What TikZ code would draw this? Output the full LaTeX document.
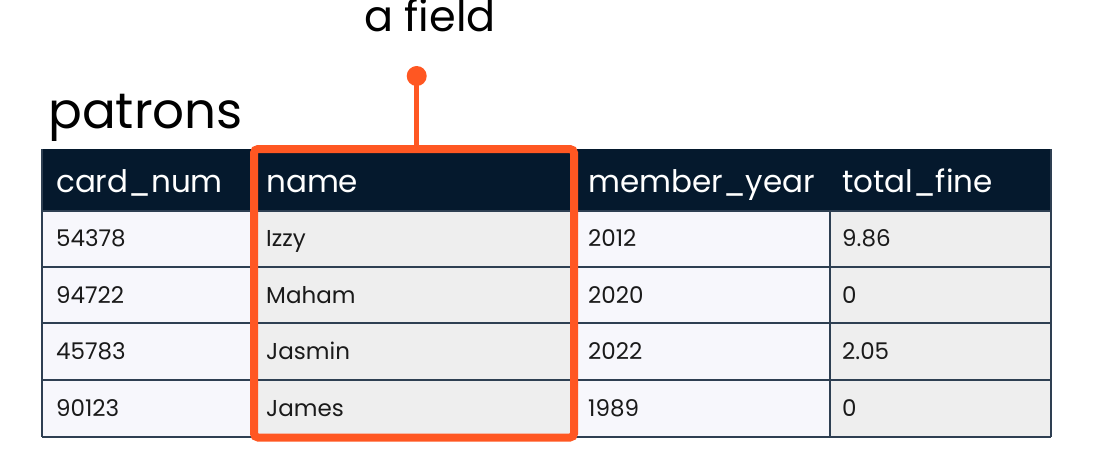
\documentclass[tikz,border=0pt]{standalone}
\usepackage{fontspec}
\setmainfont{Poppins}
\definecolor{navy}{HTML}{05192D}
\definecolor{dcorange}{HTML}{FF5722}
\definecolor{cellA}{HTML}{F7F7FC}
\definecolor{cellB}{HTML}{EEEEEE}
\definecolor{gridc}{HTML}{2E3F52}
\definecolor{ink}{HTML}{1A1A1A}
\begin{document}
\begin{tikzpicture}[x=1pt,y=-1pt,
  hdr/.style={anchor=base west, inner sep=0pt, text=white, font=\fontsize{31}{37}\selectfont},
  cell/.style={anchor=base west, inner sep=0pt, text=ink, font=\fontsize{23}{28}\selectfont},
  gridline/.style={draw=gridc, line width=2.8pt},
  title/.style={inner sep=0pt, text=black},
  fieldbox/.style={draw=dcorange, line width=8pt, rounded corners=4pt, inner sep=0pt, outer sep=0pt, anchor=north west},
  pin/.style={draw=dcorange, line width=5pt},
  pindot/.style={circle, fill=dcorange, minimum size=20pt, inner sep=0pt}]
\useasboundingbox (0,0) rectangle (1097,472);
% cell backgrounds
\fill[cellA] (42,211) rectangle (252,437);
\fill[cellB] (252,211) rectangle (574,437);
\fill[cellA] (574,211) rectangle (830,437);
\fill[cellB] (830,211) rectangle (1051,437);
% header band
\fill[navy] (42,149) rectangle (1051,211);
% grid
\foreach \y in {211,267,323,380,437} \draw[gridline] (42,\y) -- (1051,\y);
\foreach \x in {252,574,830} \draw[gridline] (\x,211) -- (\x,437);
\draw[gridline] (42,149) -- (42,437);
\draw[gridline] (1051,149) -- (1051,437);
% header texts
\node[hdr] (h1) at (56,192) {card\_num};
\node[hdr] (h2) at (266,192) {name};
\node[hdr] (h3) at (588,192) {member\_year};
\node[hdr] (h4) at (842,192) {total\_fine};
% body
\foreach \r/\y/\a/\b/\c/\d in {1/246.7/54378/Izzy/2012/9.86, 2/303/94722/Maham/2020/0, 3/359.5/45783/Jasmin/2022/2.05, 4/416.5/90123/James/1989/0} {
  \node[cell] (r\r-c1) at (56,\y) {\a};
  \node[cell] (r\r-c2) at (266,\y) {\b};
  \node[cell] (r\r-c3) at (588,\y) {\c};
  \node[cell] (r\r-c4) at (842,\y) {\d};
}
% titles
\node[title, anchor=base west, font=\fontsize{50}{60}\selectfont] (tname) at (48,128) {patrons};
\node[title, anchor=base, font=\fontsize{43}{51}\selectfont] (lbl) at (430,31.7) {a field};
% highlighted field
\node[fieldbox, minimum width=320pt, minimum height=288.5pt] (field) at (254,149) {};
\node[pindot] (dot) at (416.7,76) {};
\draw[pin] (dot.center) -- (dot.center |- field.north);
\end{tikzpicture}
\end{document}
